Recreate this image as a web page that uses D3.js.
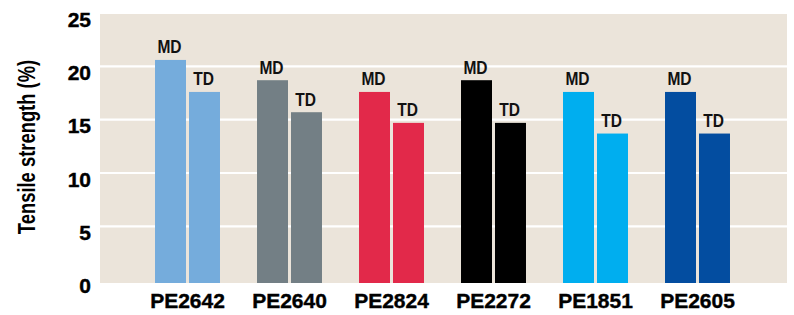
<!DOCTYPE html>
<html><head><meta charset="utf-8">
<script src="https://cdn.jsdelivr.net/npm/d3@7"></script>
<style>
body{margin:0;background:#fff;}
text{font-family:"Liberation Sans",Arial,sans-serif;font-weight:bold;}
</style></head>
<body><svg id="c" width="794" height="315"></svg>
<script>
const categories = ["PE2642","PE2640","PE2824","PE2272","PE1851","PE2605"];
const directions = ["MD","TD"];
const mdValues = [20.6, 18.7, 17.6, 18.7, 17.6, 17.6];
const tdValues = [17.6, 15.7, 14.7, 14.7, 13.7, 13.7];
const colors = ["#75acdc","#737f85","#e2294a","#000000","#00aeef","#034da0"];
const yTicks = [0,5,10,15,20,25];

const FONT = '"Liberation Sans",Arial,sans-serif';
const svg = d3.select("#c");
const plot = {left:100, right:787, top:14, bottom:283};
const y = d3.scaleLinear().domain([0,25]).range([279.7, 13]);
const x0 = d3.scaleBand().domain(categories).range([136.5, 748.5]).paddingInner(0.363).paddingOuter(0.1815);
const x1 = d3.scaleBand().domain(directions).range([0, x0.bandwidth()]).paddingInner(3/34).paddingOuter(0);

svg.append("rect").attr("x",plot.left).attr("y",plot.top).attr("width",plot.right-plot.left).attr("height",plot.bottom-plot.top).attr("fill","#ebe4da");

svg.append("g").selectAll("line").data(yTicks.filter(t=>t>0&&t<25)).join("line")
  .attr("x1",plot.left).attr("x2",plot.right)
  .attr("y1",d=>y(d)).attr("y2",d=>y(d))
  .attr("stroke","#fff").attr("stroke-width",2.2);

const rows = categories.map((c,i)=>({cat:c, color:colors[i], vals:[{d:"MD",v:mdValues[i]},{d:"TD",v:tdValues[i]}]}));
const g = svg.append("g").selectAll("g").data(rows).join("g").attr("transform",d=>`translate(${x0(d.cat)},0)`);
g.selectAll("rect").data(d=>d.vals.map(v=>({...v,color:d.color}))).join("rect")
  .attr("x",d=>x1(d.d)).attr("width",x1.bandwidth())
  .attr("y",d=>y(d.v)).attr("height",d=>plot.bottom-y(d.v))
  .attr("fill",d=>d.color);
g.selectAll("text").data(d=>d.vals).join("text")
  .attr("transform",d=>`translate(${x1(d.d)+x1.bandwidth()/2-1},${y(d.v)-6.5}) scale(0.84,1)`)
  .attr("text-anchor","middle").attr("font-size",18.5).attr("fill","#111")
  .text(d=>d.d);

// y axis labels
const yAxis = d3.axisLeft(y).tickValues(yTicks).tickSize(0).tickPadding(0);
const ya = svg.append("g").attr("transform","translate(91,0)").call(yAxis);
ya.select(".domain").remove();
ya.selectAll("text").attr("font-size",21).attr("fill","#000").attr("dy",0).attr("y",13)
  .attr("stroke","#000").attr("stroke-width",0.4)
  .style("font-family",FONT).style("font-weight","bold");

// x axis labels
const xAxis = d3.axisBottom(x0).tickSize(0).tickPadding(0);
const xa = svg.append("g").attr("transform","translate(0,293)").call(xAxis);
xa.select(".domain").remove();
xa.selectAll("text").attr("font-size",21).attr("fill","#000").attr("dy",0).attr("y",15.3)
  .attr("stroke","#000").attr("stroke-width",0.4)
  .style("font-family",FONT).style("font-weight","bold");

svg.append("text").attr("transform","translate(35,147) rotate(-90) scale(0.8,1)")
  .attr("text-anchor","middle").attr("font-size",23).attr("fill","#000")
  .text("Tensile strength (%)");
</script></body></html>
